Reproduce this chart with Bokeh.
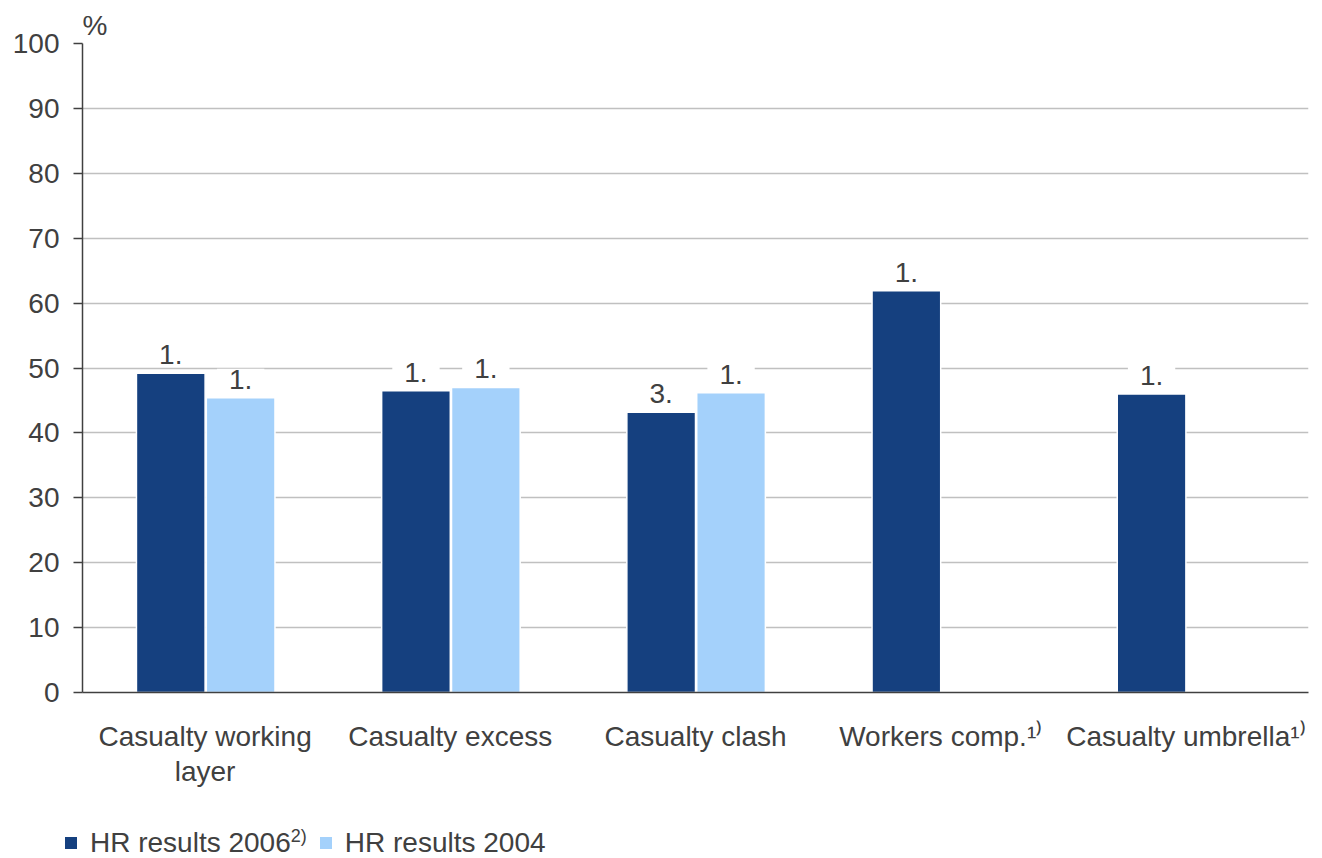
from bokeh.plotting import figure
from bokeh.layouts import column
from bokeh.models import ColumnDataSource, Range1d, FixedTicker, Div
from bokeh.transform import dodge
from bokeh.core.properties import value
from bokeh.embed import file_html
from bokeh.resources import INLINE

# Data
categories = ["Casualty working layer", "Casualty excess", "Casualty clash",
              "Workers comp.", "Casualty umbrella"]
tick_labels = ["Casualty working\nlayer", "Casualty excess", "Casualty clash",
               "Workers comp.\u00b9\u207e", "Casualty umbrella\u00b9\u207e"]
hr_2006 = [49.2, 46.5, 43.2, 61.9, 46.0]
rank_2006 = ["1.", "1.", "3.", "1.", "1."]
hr_2004_categories = ["Casualty working layer", "Casualty excess", "Casualty clash"]
hr_2004 = [45.4, 47.0, 46.2]
rank_2004 = ["1.", "1.", "1."]
y_ticks = [0, 10, 20, 30, 40, 50, 60, 70, 80, 90, 100]
series_names = ["HR results 2006", "HR results 2004"]
series_notes = ["2)", ""]

# Category slots: each category occupies one unit, centred on i + 0.5
slot = {c: i + 0.5 for i, c in enumerate(categories)}

# Styling
FONT = "Liberation Sans"
TXT = "#404040"
DARK = "#15407F"
LIGHT = "#A4D1FB"
GRID = "#C0C0C0"
FS = "28px"
series_colors = [DARK, LIGHT]

p = figure(
    x_range=Range1d(0, len(categories)),
    y_range=Range1d(0, 100),
    width=1322, height=800,
    output_backend="svg", toolbar_location=None,
    min_border_left=82, min_border_right=14,
    min_border_top=43, min_border_bottom=108,
    title="%",
)
p.outline_line_color = None
p.background_fill_color = "white"
p.border_fill_color = "white"

p.title.align = "left"
p.title.text_font = FONT
p.title.text_font_size = FS
p.title.text_font_style = "normal"
p.title.text_color = TXT
p.title.standoff = 6

# Value axis
yax = p.yaxis[0]
yax.ticker = FixedTicker(ticks=y_ticks)
yax.major_tick_out = 9
yax.major_tick_in = 0
yax.minor_tick_line_color = None
yax.axis_line_color = TXT
yax.axis_line_width = 1.5
yax.major_tick_line_color = TXT
yax.major_tick_line_width = 1.5
yax.major_label_text_font = FONT
yax.major_label_text_font_size = FS
yax.major_label_text_color = TXT
yax.major_label_standoff = 14

# Category axis
xax = p.xaxis[0]
xax.ticker = FixedTicker(ticks=[slot[c] for c in categories])
xax.major_label_overrides = {slot[c]: t for c, t in zip(categories, tick_labels)}
xax.major_tick_out = 0
xax.major_tick_in = 0
xax.major_tick_line_color = None
xax.minor_tick_line_color = None
xax.axis_line_color = TXT
xax.axis_line_width = 1.5
xax.major_label_text_font = FONT
xax.major_label_text_font_size = FS
xax.major_label_text_color = TXT
xax.major_label_standoff = 28
xax.major_label_text_line_height = 1.15

p.xgrid.grid_line_color = None
p.ygrid.grid_line_color = GRID
p.ygrid.grid_line_width = 1.5

# Bars
src06 = ColumnDataSource(dict(pos=[slot[c] for c in categories], val=hr_2006, rank=rank_2006))
src04 = ColumnDataSource(dict(pos=[slot[c] for c in hr_2004_categories], val=hr_2004, rank=rank_2004))

OFF06, OFF04, W = -0.14, 0.145, 0.28
p.vbar(x=dodge("pos", OFF06), top="val", bottom=0, width=W, source=src06,
       fill_color=DARK, line_color="white", line_width=1.5)
p.vbar(x=dodge("pos", OFF04), top="val", bottom=0, width=W, source=src04,
       fill_color=LIGHT, line_color="white", line_width=1.5)

# Rank labels above the bars, on a white box that interrupts the grid
for src, off in ((src06, OFF06), (src04, OFF04)):
    p.text(x=dodge("pos", off), y="val", text="rank", source=src,
           text_align="center", text_baseline="bottom", y_offset=-9,
           text_font=value(FONT), text_font_size="28px", text_color=TXT,
           background_fill_color="white", padding=dict(left=12, right=12, top=1, bottom=0))

# Legend strip under the chart (square key + series name with footnote mark)
items = []
for name, note, color in zip(series_names, series_notes, series_colors):
    sup = f'<sup style="font-size:18px;line-height:0">{note}</sup>' if note else ""
    items.append(
        f'<span style="display:inline-block;width:12px;height:12px;background:{color};'
        f'margin-right:13px"></span>'
        f'<span style="margin-right:13px;white-space:nowrap">{name}{sup}</span>'
    )
legend_html = (
    f'<div style="display:flex;align-items:center;height:30px;margin-top:28px;'
    f'padding-left:65px;font-family:\'{FONT}\',Arial,sans-serif;font-size:28px;'
    f'color:{TXT};line-height:30px">' + "".join(items) + "</div>"
)
legend_div = Div(text=legend_html, width=1322, height=58, margin=(0, 0, 0, 0))

open("out.html", "w").write(file_html(column(p, legend_div, spacing=0), INLINE))
